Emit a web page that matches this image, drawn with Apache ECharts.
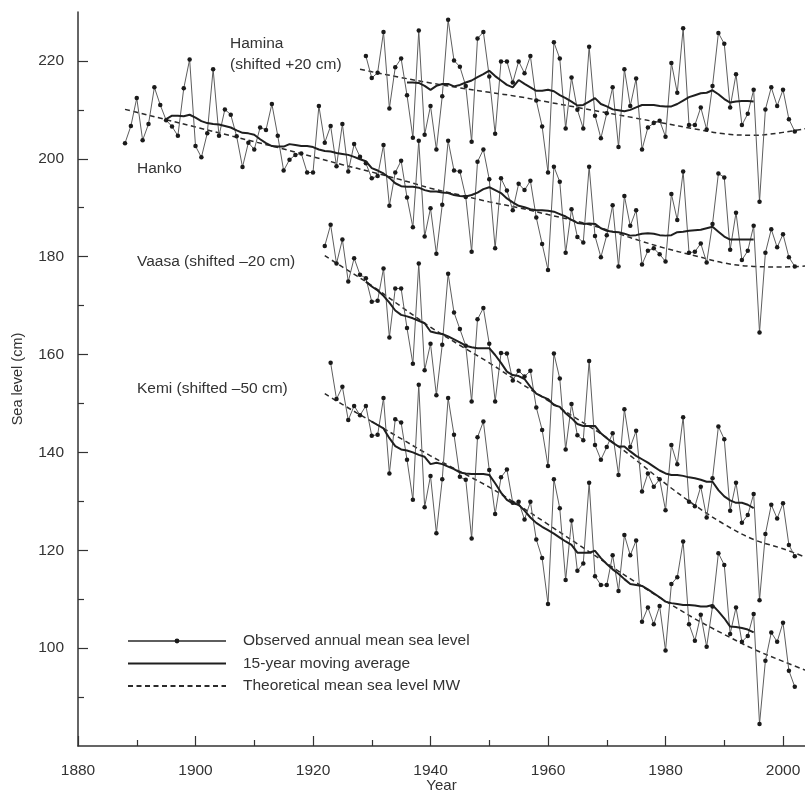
<!DOCTYPE html>
<html><head><meta charset="utf-8">
<script src="https://cdn.jsdelivr.net/npm/echarts@6/dist/echarts.min.js"></script>
<style>html,body{margin:0;padding:0;background:#fff}#c{width:805px;height:792px}</style>
</head><body><div id="c"></div>
<script>
// ---------- tick labels ----------
var xTicks = [1880, 1900, 1920, 1940, 1960, 1980, 2000];
var xMinorTicks = [1890, 1910, 1930, 1950, 1970, 1990];
var yTicks = [100, 120, 140, 160, 180, 200, 220];
var yMinorTicks = [90, 110, 130, 150, 170, 190, 210];

// ---------- observed annual mean sea level (cm) ----------
var hankoStart = 1888;
var hanko = [
  203.2,206.7,212.4,203.8,207.1,214.6,211.0,207.9,206.6,204.7,214.4,220.3,
  202.6,200.3,205.2,218.3,204.7,210.1,209.0,204.6,198.3,203.3,
  201.9,206.4,205.9,211.2,204.7,197.6,199.8,200.8,201.1,197.2,
  197.2,210.8,203.3,206.7,198.5,207.1,197.4,203.0,200.4,
  199.1,196.0,196.5,202.8,190.4,197.2,199.6,192.1,186.0,203.7,
  184.1,189.9,180.6,190.6,203.7,197.6,197.4,192.2,181.0,199.4,
  201.9,195.8,181.7,196.0,193.5,189.5,194.9,193.6,195.5,188.0,
  182.6,177.3,198.4,195.3,180.8,189.7,184.0,182.9,198.4,184.2,
  179.9,184.4,190.5,178.0,192.4,186.3,189.5,178.4,181.2,181.7,
  180.5,179.0,192.8,187.5,197.4,180.8,181.0,182.7,178.8,186.7,
  197.0,196.2,181.4,189.0,179.3,181.2,186.3,164.5,180.8,185.6,
  181.9,184.6,179.9,178.0];
var haminaStart = 1929;
var hamina = [
  221.0,216.5,217.6,225.9,210.3,218.7,220.5,213.0,204.3,226.2,
  204.9,210.8,201.9,212.8,228.4,220.1,218.8,214.9,203.5,224.6,
  225.9,216.8,205.1,219.9,219.9,215.6,219.9,217.5,221.0,211.9,
  206.6,197.2,223.8,220.5,206.2,216.6,210.0,206.2,222.9,208.8,
  204.2,209.3,214.6,202.4,218.3,210.8,216.4,201.9,206.4,207.3,
  207.8,204.5,219.6,213.5,226.7,206.9,206.9,210.5,206.0,214.9,
  225.7,223.5,210.5,217.3,206.9,209.2,214.1,191.2,210.1,214.6,
  210.8,214.1,208.1,205.6];
var vaasaStart = 1922;
var vaasa = [
  182.2,186.5,178.6,183.5,174.9,179.7,176.3,175.6,170.8,171.0,
  177.6,163.5,173.5,173.5,165.4,158.1,178.6,156.8,162.2,151.7,
  162.0,176.5,168.6,165.2,161.8,150.4,167.2,169.5,162.2,150.4,
  160.3,160.2,154.7,156.7,155.5,156.7,149.2,144.6,137.2,160.2,
  155.1,140.6,149.9,143.5,142.5,158.7,141.5,138.5,141.1,143.9,
  135.4,148.8,141.1,144.4,132.0,135.7,133.0,134.5,128.2,141.5,
  137.6,147.2,129.9,129.0,133.0,126.7,134.7,145.3,142.7,128.1,
  133.8,125.6,127.2,131.5,109.8,123.3,129.3,126.5,129.6,121.1,
  118.8];
var kemiStart = 1923;
var kemi = [
  158.3,150.9,153.4,146.6,149.5,147.6,149.5,143.4,143.6,151.1,
  135.7,146.8,146.1,138.5,130.3,153.8,128.8,135.2,123.5,134.5,
  151.1,143.6,135.0,134.4,122.4,143.1,146.3,136.4,127.4,134.9,
  136.5,129.7,129.9,126.3,129.9,122.2,118.4,109.0,134.5,128.6,
  113.9,126.1,115.8,117.3,133.8,114.7,112.9,112.9,119.0,111.7,
  123.1,119.0,122.0,105.4,108.3,104.9,108.6,99.5,113.1,114.5,
  121.8,104.9,101.5,106.8,100.3,108.5,119.4,117.0,102.9,108.3,
  101.3,102.5,107.0,84.5,97.4,103.2,101.3,105.2,95.4,92.1];

// ---------- 15-year moving averages ----------
var hankoMAStart = 1895;
var hankoMA = [
  208.1,208.8,208.8,208.7,209.0,208.4,207.7,207.3,207.1,207.0,
  206.7,206.4,205.8,205.3,205.2,204.9,204.0,203.2,202.6,202.5,
  202.5,203.0,202.8,202.6,202.6,202.4,201.9,201.6,201.5,201.2,
  201.0,200.8,200.4,199.9,199.5,198.1,197.6,197.0,196.1,195.0,
  194.4,194.3,194.3,194.1,193.6,193.3,193.3,193.1,193.0,192.6,
  192.4,192.3,192.6,193.1,193.8,194.2,193.6,193.0,191.9,191.1,
  190.4,190.1,189.7,189.5,189.5,189.4,189.2,188.7,188.2,187.5,
  186.9,186.7,186.8,186.7,185.8,185.3,185.1,185.0,184.7,184.3,
  184.4,184.7,184.8,184.7,184.4,184.3,184.4,185.0,185.1,185.3,
  185.4,185.5,185.8,186.1,185.1,184.1,183.5,183.5,183.5,183.5,
  183.5];
var haminaMAStart = 1936;
var haminaMA = [
  215.6,215.6,215.5,214.9,214.1,214.9,215.3,215.3,214.8,215.1,
  215.6,216.0,216.7,217.3,218.0,216.9,216.0,215.1,214.6,216.1,
  215.3,214.6,213.9,213.9,214.1,213.8,213.0,212.4,211.7,210.9,
  211.0,211.7,212.4,211.2,210.7,210.1,209.9,209.7,210.0,210.5,
  211.0,211.0,211.0,210.8,210.7,210.7,211.2,211.9,212.6,213.0,
  213.4,213.5,214.0,213.2,212.2,211.5,211.7,211.8,211.8,211.7];
var vaasaMAStart = 1929;
var vaasaMA = [
  174.9,173.9,173.1,172.0,170.6,169.0,168.1,167.8,167.4,166.9,
  166.4,164.7,164.4,164.2,163.7,163.1,162.5,161.8,161.5,161.3,
  161.3,161.3,159.9,158.3,156.5,155.8,155.6,155.0,153.4,152.0,
  151.4,150.9,149.7,149.3,148.0,147.0,145.8,145.4,145.4,145.4,
  143.9,142.9,142.0,141.2,141.2,140.2,139.3,138.6,137.9,137.1,
  136.3,135.7,135.4,135.4,135.2,134.9,134.7,134.4,134.0,134.0,
  132.3,131.0,130.2,129.7,129.7,129.3,128.6];
var kemiMAStart = 1930;
var kemiMA = [
  146.3,145.6,144.9,142.9,141.3,140.6,140.4,140.0,139.5,139.1,
  137.6,137.9,137.6,137.1,136.6,135.9,135.7,135.6,135.6,135.6,
  135.4,133.7,131.8,130.3,129.6,129.3,128.1,126.7,125.6,124.8,
  124.1,123.4,122.6,121.8,121.1,119.5,119.5,119.5,119.9,118.4,
  117.2,116.1,115.2,114.1,113.1,112.9,112.7,112.0,111.2,110.4,
  109.5,109.2,109.0,108.8,108.8,108.7,108.5,108.5,108.8,107.5,
  106.1,104.4,104.3,104.1,103.8,103.2];

// ---------- theoretical mean sea level MW ----------
var hankoMWYears = [1888,1890,1895,1900,1905,1910,1915,1920,1925,1930,1935,1940,1945,1950,1955,1960,1965,1970,1975,1980,1985,1990,1995,2000,2004];
var hankoMW = [210.1,209.5,208.0,206.5,205.0,203.5,202.0,200.4,198.8,197.3,195.7,194.0,192.6,191.2,190.0,188.6,187.2,185.5,183.5,181.7,180.2,178.7,178.0,177.9,178.1];
var haminaMWYears = [1928,1930,1935,1940,1945,1950,1955,1960,1965,1970,1975,1980,1985,1990,1995,2000,2004];
var haminaMW = [218.3,217.8,216.6,215.5,214.5,213.6,212.7,211.6,210.5,209.4,208.3,207.2,206.1,205.1,204.8,205.4,206.2];
var vaasaMWYears = [1922,1925,1930,1935,1940,1945,1950,1955,1960,1965,1970,1975,1980,1985,1990,1995,2000,2004];
var vaasaMW = [180.2,177.9,174.1,169.8,165.6,161.9,158.3,154.4,150.6,146.8,143.0,138.4,133.6,129.2,125.3,122.2,120.3,118.5];
var kemiMWYears = [1922,1925,1930,1935,1940,1945,1950,1955,1960,1965,1970,1975,1980,1985,1990,1995,2000,2004];
var kemiMW = [152.0,149.8,146.3,142.8,139.3,136.1,132.9,129.2,125.3,121.3,117.3,113.4,109.6,106.0,102.8,99.8,97.3,95.4];

// ---------- names & labels ----------
var OBS = 'Observed annual mean sea level';
var MA = '15-year moving average';
var MW = 'Theoretical mean sea level MW';
var FONT = '"Liberation Sans", Arial, Helvetica, sans-serif';

function seq(start, vals) { return vals.map(function (v, i) { return [start + i, v]; }); }
function pairs(years, vals) { return years.map(function (y, i) { return [y, vals[i]]; }); }

function obsSeries(data) {
  return { type: 'line', name: OBS, data: data, symbol: 'circle', symbolSize: 4.5, showAllSymbol: true,
    lineStyle: { color: '#5e5e5e', width: 1 }, itemStyle: { color: '#1a1a1a' }, z: 3, silent: true };
}
function maSeries(data) {
  return { type: 'line', name: MA, data: data, symbol: 'none',
    lineStyle: { color: '#1f1f1f', width: 2 }, itemStyle: { color: '#1f1f1f' }, z: 4, silent: true };
}
function mwSeries(data) {
  return { type: 'line', name: MW, data: data, symbol: 'none', smooth: 0.35,
    lineStyle: { color: '#2b2b2b', width: 1.5, type: [5, 3.5] }, itemStyle: { color: '#2b2b2b' }, z: 2, silent: true };
}

var axisColor = '#333';
var chart = echarts.init(document.getElementById('c'), null, { renderer: 'canvas' });
chart.setOption({
  animation: false,
  backgroundColor: '#fff',
  textStyle: { fontFamily: FONT },
  grid: { left: 78, right: 0, top: 12, bottom: 46, containLabel: false, outerBoundsMode: 'none' },
  xAxis: [{
    type: 'value', min: 1880, max: 2003.74, interval: 20,
    name: 'Year', nameLocation: 'middle', nameGap: 32, nameMoveOverlap: false,
    nameTextStyle: { fontSize: 15, color: axisColor, fontFamily: FONT },
    axisLine: { onZero: false, lineStyle: { color: axisColor, width: 1.5 } },
    axisTick: { customValues: xTicks, inside: true, length: 10, lineStyle: { color: axisColor, width: 1.2 } },
    axisLabel: { customValues: xTicks, fontSize: 15.5, color: axisColor, margin: 17, fontFamily: FONT,
      formatter: function (v) { return String(Math.round(v)); } },
    splitLine: { show: false }
  }, {
    type: 'value', min: 1880, max: 2003.74, position: 'bottom',
    axisLine: { show: false, onZero: false },
    axisTick: { customValues: xMinorTicks, inside: true, length: 6, lineStyle: { color: axisColor, width: 1.2 } },
    axisLabel: { show: false }, splitLine: { show: false }
  }],
  yAxis: [{
    type: 'value', min: 80, max: 230, interval: 10,
    name: 'Sea level (cm)', nameLocation: 'middle', nameGap: 53, nameMoveOverlap: false,
    nameTextStyle: { fontSize: 14.5, color: axisColor, fontFamily: FONT },
    axisLine: { onZero: false, lineStyle: { color: axisColor, width: 1.5 } },
    axisTick: { customValues: yTicks, inside: true, length: 10, lineStyle: { color: axisColor, width: 1.2 } },
    axisLabel: { customValues: yTicks, fontSize: 15.5, color: axisColor, margin: 14, fontFamily: FONT,
      formatter: function (v) { return String(Math.round(v)); } },
    splitLine: { show: false }
  }, {
    type: 'value', min: 80, max: 230, position: 'left',
    axisLine: { show: false, onZero: false },
    axisTick: { customValues: yMinorTicks, inside: true, length: 6, lineStyle: { color: axisColor, width: 1.2 } },
    axisLabel: { show: false }, splitLine: { show: false }
  }],
  legend: {
    orient: 'vertical', left: 122, top: 628, itemWidth: 98, itemHeight: 6, itemGap: 6.5,
    selectedMode: false,
    data: [
      { name: OBS, itemStyle: { color: '#1a1a1a' } },
      { name: MA, itemStyle: { opacity: 0 } },
      { name: MW, itemStyle: { opacity: 0 } }
    ],
    textStyle: { fontSize: 15.5, color: axisColor, fontFamily: FONT, padding: [0, 0, 0, 12], lineHeight: 16 }
  },
  graphic: [
    { type: 'text', left: 230, top: 36, silent: true, style: { text: 'Hamina', fontSize: 15.5, fontFamily: FONT, fill: axisColor } },
    { type: 'text', left: 230, top: 57, silent: true, style: { text: '(shifted +20 cm)', fontSize: 15.5, fontFamily: FONT, fill: axisColor } },
    { type: 'text', left: 137, top: 161, silent: true, style: { text: 'Hanko', fontSize: 15.5, fontFamily: FONT, fill: axisColor } },
    { type: 'text', left: 137, top: 254, silent: true, style: { text: 'Vaasa (shifted \u201320 cm)', fontSize: 15.5, fontFamily: FONT, fill: axisColor } },
    { type: 'text', left: 137, top: 381, silent: true, style: { text: 'Kemi (shifted \u201350 cm)', fontSize: 15.5, fontFamily: FONT, fill: axisColor } }
  ],
  series: [
    mwSeries(pairs(hankoMWYears, hankoMW)),
    mwSeries(pairs(haminaMWYears, haminaMW)),
    mwSeries(pairs(vaasaMWYears, vaasaMW)),
    mwSeries(pairs(kemiMWYears, kemiMW)),
    obsSeries(seq(hankoStart, hanko)),
    obsSeries(seq(haminaStart, hamina)),
    obsSeries(seq(vaasaStart, vaasa)),
    obsSeries(seq(kemiStart, kemi)),
    maSeries(seq(hankoMAStart, hankoMA)),
    maSeries(seq(haminaMAStart, haminaMA)),
    maSeries(seq(vaasaMAStart, vaasaMA)),
    maSeries(seq(kemiMAStart, kemiMA))
  ]
});
</script></body></html>
